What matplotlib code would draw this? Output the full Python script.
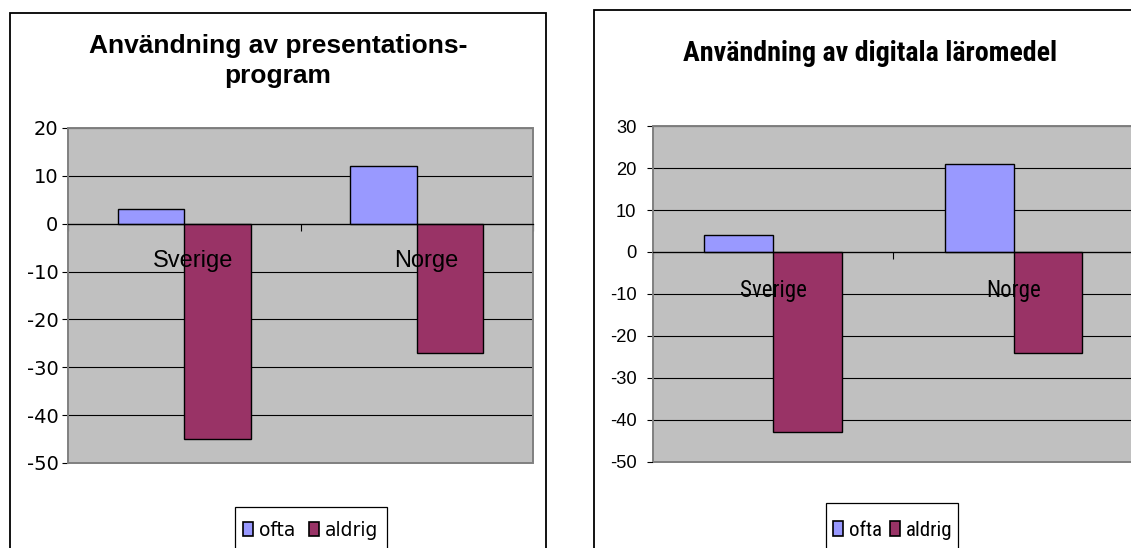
import matplotlib
matplotlib.use("Agg")
import matplotlib.pyplot as plt
from matplotlib import font_manager as fm
from matplotlib.patches import Rectangle

W, H = 1131, 548
DPI = 100

categories = ["Sverige", "Norge"]
series = ["ofta", "aldrig"]

pres_title = ["Användning av presentations-", "program"]
pres_ofta = [3, 12]
pres_aldrig = [-45, -27]
pres_yticks = [20, 10, 0, -10, -20, -30, -40, -50]

dig_title = ["Användning av digitala läromedel"]
dig_ofta = [4, 21]
dig_aldrig = [-43, -24]
dig_yticks = [30, 20, 10, 0, -10, -20, -30, -40, -50]

COL_OFTA = "#9999FF"
COL_ALDRIG = "#993366"
PLOT_BG = "#C0C0C0"
BORDER = "#808080"


def installed(name):
    try:
        fm.findfont(fm.FontProperties(family=name), fallback_to_default=False)
        return True
    except ValueError:
        return False


# condensed face for the second chart; shrink a regular face if none exists
NARROW = None
for cand in ("Liberation Sans Narrow", "Arial Narrow", "Roboto Condensed"):
    if installed(cand):
        NARROW = [cand, "DejaVu Sans"]
        NARROW_SCALE = 1.0
        break
if NARROW is None:
    NARROW = ["Liberation Sans", "DejaVu Sans"]
    NARROW_SCALE = 0.82

ARIAL = ["Liberation Sans", "DejaVu Sans"]
WIDE = ["DejaVu Sans"]

fig = plt.figure(figsize=(W / DPI, H / DPI), dpi=DPI)
fig.patch.set_facecolor("white")


def fx(px):
    return px / W


def fy(py):
    return 1 - py / H


def box(x0, y0, x1, y1, lw):
    fig.patches.append(Rectangle((fx(x0), fy(y1)), fx(x1) - fx(x0), fy(y0) - fy(y1),
                                 transform=fig.transFigure, fill=False,
                                 edgecolor="black", linewidth=lw, zorder=0))


def panel(rect, ofta, aldrig, yticks, tick_family, tick_size, tick_pad,
          cat_family, cat_size, cat_dx, cat_dy):
    x0, y0, x1, y1 = rect
    ax = fig.add_axes([fx(x0), fy(y1), fx(x1) - fx(x0), fy(y0) - fy(y1)])
    ax.set_facecolor(PLOT_BG)
    n = len(categories)
    w = 1 / 3.5
    ax.bar([i - w / 2 for i in range(n)], ofta, width=w, color=COL_OFTA,
           edgecolor="black", linewidth=1.0, zorder=3)
    ax.bar([i + w / 2 for i in range(n)], aldrig, width=w, color=COL_ALDRIG,
           edgecolor="black", linewidth=1.0, zorder=3)
    ax.set_xlim(-0.5, n - 0.5)
    ax.set_ylim(min(yticks), max(yticks))

    # horizontal gridlines
    ax.set_yticks(yticks)
    ax.set_yticklabels([str(v) for v in yticks], family=tick_family, fontsize=tick_size)
    ax.yaxis.grid(True, color="black", linewidth=0.8)
    ax.set_axisbelow(True)
    ax.tick_params(axis="y", direction="out", length=4.3, width=0.8, pad=tick_pad,
                   color="black", labelcolor="black")

    # category axis crossing at zero, with ticks between the categories
    for s in ("top", "right", "left"):
        ax.spines[s].set_visible(False)
    ax.spines["bottom"].set_position(("data", 0))
    ax.spines["bottom"].set_color("black")
    ax.spines["bottom"].set_linewidth(0.9)
    ax.spines["bottom"].set_zorder(4)
    ax.set_xticks([])
    ax.set_xticks([i - 0.5 for i in range(n + 1)], minor=True)
    ax.tick_params(axis="x", which="minor", direction="out", length=5, width=0.8,
                   color="black")
    ax.add_patch(Rectangle((0, 0), 1, 1, transform=ax.transAxes, fill=False,
                           edgecolor=BORDER, linewidth=1.4, zorder=2.6,
                           clip_on=False))

    for i, cat in enumerate(categories):
        ax.annotate(cat, xy=(i, 0), xycoords="data", xytext=(cat_dx, -cat_dy),
                    textcoords="offset pixels", ha="center", va="baseline",
                    family=cat_family, fontsize=cat_size, color="black", zorder=5)
    return ax


def legend(frame_px, anchor_px, family, size, hl, hh, htp, cs):
    box(*frame_px, lw=0.9)
    handles = [Rectangle((0, 0), 1, 1, facecolor=COL_OFTA, edgecolor="black", linewidth=1.2),
               Rectangle((0, 0), 1, 1, facecolor=COL_ALDRIG, edgecolor="black", linewidth=1.2)]
    return fig.legend(handles, series, loc="center left",
                      bbox_to_anchor=(fx(anchor_px[0]), fy(anchor_px[1])),
                      bbox_transform=fig.transFigure, borderaxespad=0, ncol=2,
                      frameon=False, handlelength=hl, handleheight=hh,
                      handletextpad=htp, columnspacing=cs, borderpad=0,
                      prop={"family": family, "size": size})


# Left chart: presentation software
box(10, 12.7, 546, 600, lw=1.3)
fig.text(fx(278), fy(52.9), pres_title[0], ha="center", va="baseline",
         family=ARIAL, fontweight="bold", fontsize=19)
fig.text(fx(278), fy(83), pres_title[1], ha="center", va="baseline",
         family=ARIAL, fontweight="bold", fontsize=19)
panel((67.7, 128, 533.3, 463), pres_ofta, pres_aldrig, pres_yticks,
      WIDE, 14, 2.4, ARIAL, 17, 9, 43.3)
legend((235, 506.7, 386.7, 600), (242.7, 530), WIDE, 13.5, 0.55, 0.8, 0.33, 0.7)

# Right chart: digital teaching materials
box(594, 10, 1146, 600, lw=1.3)
fig.text(fx(870), fy(61.4), dig_title[0], ha="center", va="baseline",
         family=NARROW, fontweight="bold", fontsize=20.2 * NARROW_SCALE)
panel((652.7, 126.3, 1133.9, 461.5), dig_ofta, dig_aldrig, dig_yticks,
      ARIAL, 13.2, 7.5, NARROW, 16.5 * NARROW_SCALE, 0, 44.5)
legend((825.7, 503.3, 958.3, 600), (833.3, 530), NARROW, 15 * NARROW_SCALE,
       0.45, 0.7, 0.3, 0.4)

fig.savefig("out.png", dpi=DPI, facecolor="white")
